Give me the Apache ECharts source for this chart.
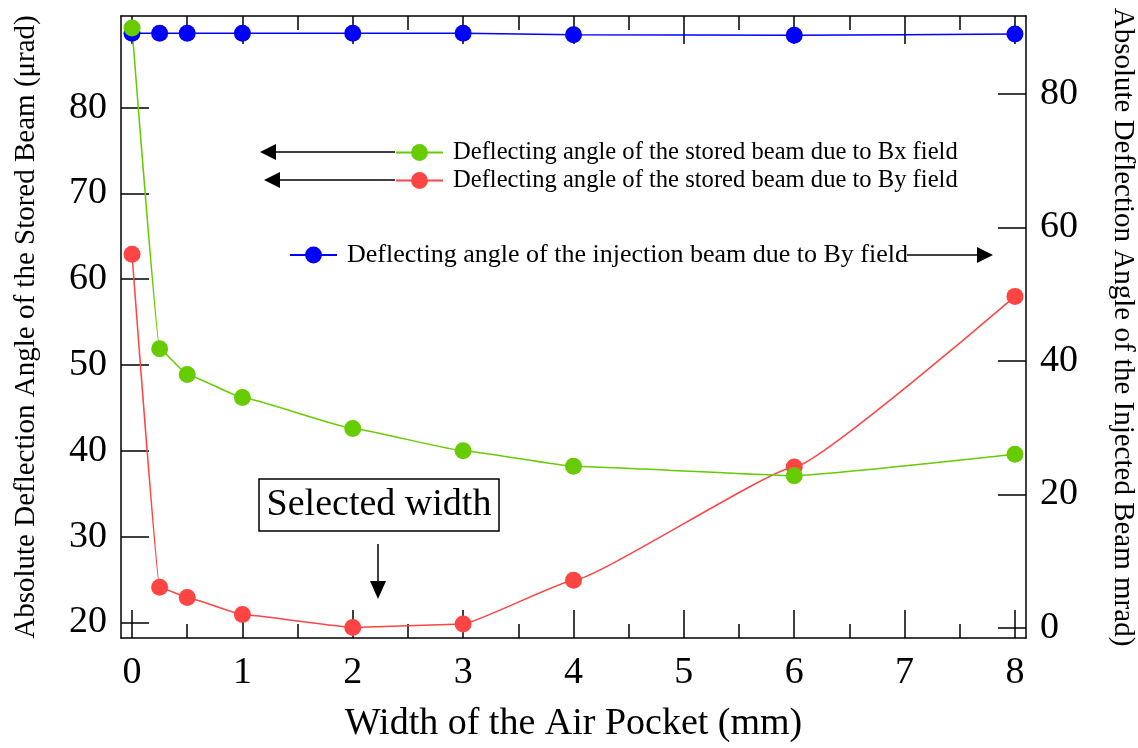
<!DOCTYPE html>
<html><head><meta charset="utf-8">
<script src="https://cdn.jsdelivr.net/npm/echarts@6/dist/echarts.min.js"></script>
<style>html,body{margin:0;padding:0;background:#fff}#c{width:1138px;height:748px}</style>
</head><body><div id="c"></div>
<script>
// ---- data ----
const widths = [0, 0.25, 0.5, 1, 2, 3, 4, 6, 8];
const storedBx = [89.3, 51.9, 48.9, 46.2, 42.6, 40.0, 38.2, 37.1, 39.6];
const storedBy = [62.9, 24.1, 22.9, 20.9, 19.4, 19.8, 24.9, 38.1, 58.0];
const injectedBy = [89.1, 89.1, 89.1, 89.1, 89.1, 89.1, 88.9, 88.8, 89.0];
const xMajorTicks = [0, 1, 2, 3, 4, 5, 6, 7, 8];
const xMinorTicks = [0.5, 1.5, 2.5, 3.5, 4.5, 5.5, 6.5, 7.5];
const leftTicks = [20, 30, 40, 50, 60, 70, 80];
const rightTicks = [0, 20, 40, 60, 80];
const nameBx = 'Deflecting angle of the stored beam due to Bx field';
const nameBy = 'Deflecting angle of the stored beam due to By field';
const nameInj = 'Deflecting angle of the injection beam due to By field';

const FONT = '"Liberation Serif", "Times New Roman", serif';
const pairs = (ys) => widths.map((x, i) => [x, ys[i]]);
const blackLine = { color: '#000', width: 1.5 };

const xBase = { type: 'value', min: -0.1, max: 8.1, splitLine: { show: false } };
const xAxes = [
  Object.assign({}, xBase, {
    position: 'bottom',
    axisLine: { show: true, onZero: false, lineStyle: blackLine },
    axisTick: { show: true, inside: true, length: 28, customValues: xMajorTicks, lineStyle: blackLine },
    axisLabel: { show: true, customValues: xMajorTicks, fontSize: 38, fontFamily: FONT, color: '#000', margin: 16 },
    name: 'Width of the Air Pocket (mm)', nameLocation: 'middle', nameGap: 67,
    nameTextStyle: { fontSize: 38, fontFamily: FONT, color: '#000' }
  }),
  Object.assign({}, xBase, {
    position: 'bottom',
    axisLine: { show: false, onZero: false },
    axisTick: { show: true, inside: true, length: 14, customValues: xMinorTicks, lineStyle: blackLine },
    axisLabel: { show: false }
  }),
  Object.assign({}, xBase, {
    position: 'top',
    axisLine: { show: true, onZero: false, lineStyle: blackLine },
    axisTick: { show: true, inside: true, length: 28, customValues: xMajorTicks, lineStyle: blackLine },
    axisLabel: { show: false }
  }),
  Object.assign({}, xBase, {
    position: 'top',
    axisLine: { show: false, onZero: false },
    axisTick: { show: true, inside: true, length: 14, customValues: xMinorTicks, lineStyle: blackLine },
    axisLabel: { show: false }
  })
];

const yAxes = [
  {
    type: 'value', position: 'left', min: 18.17, max: 90.69, splitLine: { show: false },
    axisLine: { show: true, onZero: false, lineStyle: blackLine },
    axisTick: { show: true, inside: true, length: 28, customValues: leftTicks, lineStyle: blackLine },
    axisLabel: { customValues: leftTicks, fontSize: 38, fontFamily: FONT, color: '#000', margin: 14 },
    name: 'Absolute Deflection Angle of the Stored Beam (\u03bcrad)', nameLocation: 'middle', nameGap: 80,
    nameTextStyle: { fontSize: 29, fontFamily: FONT, color: '#000' }
  },
  {
    type: 'value', position: 'right', min: -1.55, max: 91.7, splitLine: { show: false },
    axisLine: { show: true, onZero: false, lineStyle: blackLine },
    axisTick: { show: true, inside: true, length: 28, customValues: rightTicks, lineStyle: blackLine },
    axisLabel: { customValues: rightTicks, fontSize: 38, fontFamily: FONT, color: '#000', margin: 14 },
    name: 'Absolute Deflection Angle of the Injected Beam mrad)', nameLocation: 'middle', nameGap: 82, nameRotate: -90,
    nameTextStyle: { fontSize: 29, fontFamily: FONT, color: '#000' }
  }
];

function lineSeries(name, ys, color, yIdx) {
  return {
    name: name, type: 'line', xAxisIndex: 0, yAxisIndex: yIdx, data: pairs(ys),
    symbol: 'circle', symbolSize: 17, smooth: 0.1, smoothMonotone: 'x',
    lineStyle: { color: color, width: 1.5 }, itemStyle: { color: color },
    emphasis: { disabled: true }, animation: false
  };
}

function legendAt(name, left, top, size) {
  return { data: [name], left: left, top: top, padding: 0, itemWidth: 47, itemHeight: 21,
           selectedMode: false,
           textStyle: { fontSize: size, fontFamily: FONT, color: '#000', padding: [0, 0, 0, 5] } };
}

function arrow(x1, y1, x2, y2, head) {
  // arrow from (x1,y1) to tip (x2,y2)
  const dx = x2 - x1, dy = y2 - y1, L = Math.hypot(dx, dy), ux = dx / L, uy = dy / L;
  const bx = x2 - ux * head, by = y2 - uy * head, px = -uy * 8, py = ux * 8;
  return [
    { type: 'line', shape: { x1: x1, y1: y1, x2: bx, y2: by }, style: { stroke: '#000', lineWidth: 1.5 }, z: 100 },
    { type: 'polygon', shape: { points: [[x2, y2], [bx + px, by + py], [bx - px, by - py]] }, style: { fill: '#000' }, z: 100 }
  ];
}

const graphics = [].concat(
  arrow(395, 152, 260, 152, 16),
  arrow(395, 180, 264, 180, 16),
  arrow(907, 255, 993, 255, 16),
  arrow(378, 544, 378, 599, 18),
  [
    { type: 'rect', shape: { x: 259, y: 479, width: 240, height: 52 }, style: { fill: '#fff', stroke: '#000', lineWidth: 1.5 }, z: 100 },
    { type: 'text', x: 379, y: 505, style: { text: 'Selected width', font: '38px ' + FONT, fill: '#000', align: 'center', verticalAlign: 'middle' }, z: 101 }
  ]
);

const chart = echarts.init(document.getElementById('c'), null, { renderer: 'canvas' });
chart.setOption({
  backgroundColor: '#fff',
  animation: false,
  grid: { left: 121, right: 112, top: 16, bottom: 110, containLabel: false, outerBoundsMode: 'none' },
  xAxis: xAxes,
  yAxis: yAxes,
  legend: [
    legendAt(nameBx, 395, 140, 24.6),
    legendAt(nameBy, 395, 168, 24.6),
    legendAt(nameInj, 289, 242, 26)
  ],
  series: [
    lineSeries(nameInj, injectedBy, '#0000ff', 1),
    lineSeries(nameBy, storedBy, '#ff4444', 0),
    lineSeries(nameBx, storedBx, '#66cc00', 0)
  ],
  graphic: graphics
});
</script>
</body></html>
